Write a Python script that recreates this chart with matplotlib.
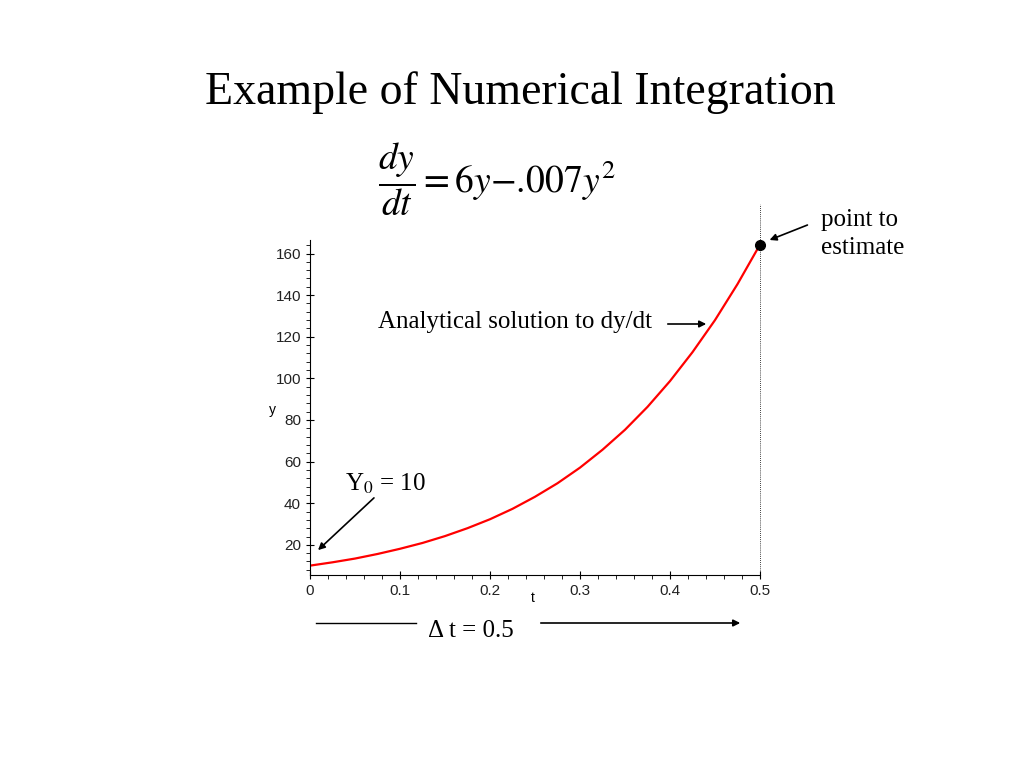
import matplotlib
matplotlib.use("Agg")
import matplotlib.pyplot as plt
from matplotlib.ticker import MultipleLocator

# values (Maple plot of the analytical solution)
t_vals = [0.0, 0.025, 0.05, 0.075, 0.1, 0.125, 0.15, 0.175, 0.2, 0.225, 0.25,
          0.275, 0.3, 0.325, 0.35, 0.375, 0.4, 0.425, 0.45, 0.475, 0.5]
y_vals = [10.0, 11.6, 13.4, 15.6, 18.1, 20.9, 24.2, 28.0, 32.3, 37.3, 43.1,
          49.6, 57.1, 65.7, 75.3, 86.3, 98.7, 112.6, 128.0, 145.3, 164.3]
x_ticks = [0, 0.1, 0.2, 0.3, 0.4, 0.5]
x_tick_labels = ["0", "0.1", "0.2", "0.3", "0.4", "0.5"]
y_ticks = [20, 40, 60, 80, 100, 120, 140, 160]

W, H = 1024, 768
SERIF = "Liberation Serif"


def px(x, y):
    """pixel position on the slide -> figure fraction"""
    return x / W, 1 - y / H


plt.rcParams["mathtext.fontset"] = "stix"
fig = plt.figure(figsize=(10.24, 7.68), dpi=100)
ax = fig.add_axes([310 / W, 1 - 575 / H, 450 / W, 335 / H])

ax.plot(t_vals, y_vals, color="red", linewidth=1.6)
ax.plot([t_vals[-1]], [y_vals[-1]], "o", color="black", markersize=7, clip_on=False, zorder=5)
ax.plot([t_vals[-1], t_vals[-1]], [5.5, 184], color="black", linewidth=0.6,
        linestyle=(0, (1, 1.5)), clip_on=False)

ax.set_xlim(0, 0.5)
ax.set_ylim(5.5, 166.5)
for side in ("top", "right"):
    ax.spines[side].set_visible(False)
ax.set_xticks(x_ticks)
ax.set_xticklabels(x_tick_labels)
ax.set_yticks(y_ticks)
ax.xaxis.set_minor_locator(MultipleLocator(0.02))
ax.yaxis.set_minor_locator(MultipleLocator(4))
ax.tick_params(which="major", direction="inout", length=6, width=0.8,
               labelsize=11, labelcolor="#222222")
ax.tick_params(which="minor", direction="out", length=3, width=0.6)
for lab in ax.get_xticklabels() + ax.get_yticklabels():
    lab.set_family("Liberation Sans")

fig.text(*px(272, 410), "y", fontsize=10, family="Liberation Sans", ha="center", va="center")
fig.text(*px(533, 598), "t", fontsize=10, family="Liberation Sans", ha="center", va="center")

# title and equation
fig.text(*px(520, 93), "Example of Numerical Integration", fontsize=33,
         family=SERIF, ha="center", va="center")
fig.text(*px(378, 179), r"$\dfrac{dy}{dt} = 6y{-}.\!007y^2$", fontsize=27,
         ha="left", va="center")

# annotations
arrow = dict(arrowstyle="-|>", color="black", lw=1.2, mutation_scale=10)
fig.text(*px(821, 234), "point to\nestimate", fontsize=18, family=SERIF,
         ha="left", va="center", linespacing=1.35)
ax.annotate("", xy=px(767, 241), xytext=px(810, 224), xycoords="figure fraction",
            textcoords="figure fraction", arrowprops=arrow)

fig.text(*px(378, 322), "Analytical solution to dy/dt", fontsize=18, family=SERIF,
         ha="left", va="center")
ax.annotate("", xy=px(709, 324), xytext=px(665, 324), xycoords="figure fraction",
            textcoords="figure fraction", arrowprops=arrow)

fig.text(*px(345, 484), r"Y$_0$ = 10", fontsize=18, family=SERIF, ha="left", va="center")
ax.annotate("", xy=px(316, 552), xytext=px(376, 496), xycoords="figure fraction",
            textcoords="figure fraction", arrowprops=arrow)

fig.text(*px(471, 631), "\u0394 t = 0.5", fontsize=18, family=SERIF, ha="center", va="center")
fig.add_artist(plt.Line2D([316 / W, 416 / W], [1 - 623 / H] * 2, color="black", lw=1.0))
ax.annotate("", xy=px(743, 623), xytext=px(538, 623), xycoords="figure fraction",
            textcoords="figure fraction", arrowprops=arrow)

fig.savefig("out.png", dpi=100)
